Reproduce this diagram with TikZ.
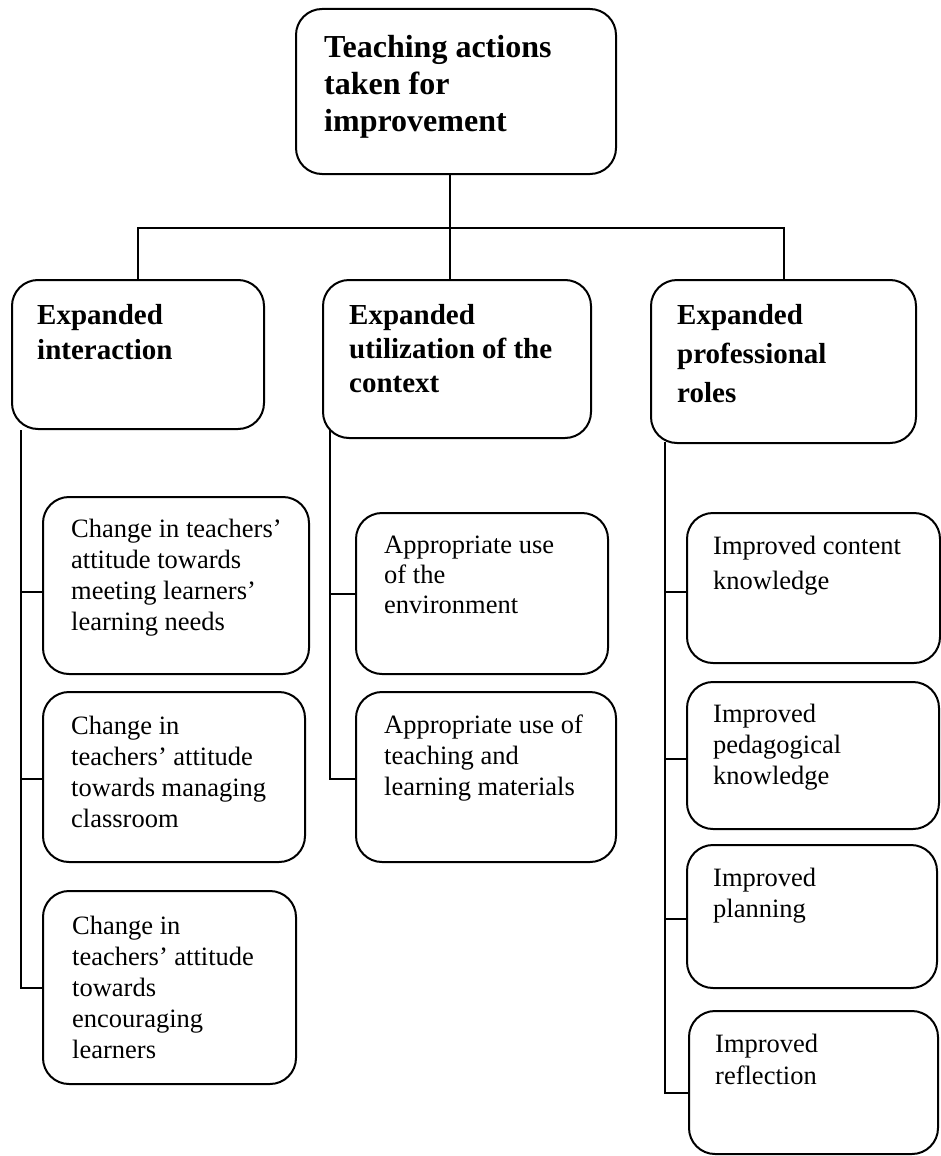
\documentclass[tikz,border=0pt]{standalone}
\usepackage{fontspec}
\setmainfont{Liberation Serif}
\begin{document}
\begin{tikzpicture}[x=1pt,y=-1pt,
  box/.style={draw, line width=2pt, rounded corners=26pt, anchor=north west, inner sep=0pt},
  link/.style={draw, line width=2pt},
  hd/.style={anchor=north west, inner sep=0pt, align=left, font=\fontsize{32}{37}\selectfont\bfseries},
  sub/.style={anchor=north west, inner sep=0pt, align=left, font=\fontsize{29}{35}\selectfont\bfseries},
  leaf/.style={anchor=north west, inner sep=0pt, align=left, font=\fontsize{26.5}{31}\selectfont}]
\fill[white] (0,0) rectangle (941,1156);
\useasboundingbox (0,0) rectangle (941,1156);

% root
\node[box, minimum width=320pt, minimum height=165pt] (top) at (295,8) {};
\node[hd] (topt) at (324,35) {Teaching actions\\taken for\\improvement};

% second level
\node[box, minimum width=252pt, minimum height=149pt] (ia) at (11,279) {};
\node[sub] (iat) at (37,304) {Expanded\\interaction};
\node[box, minimum width=268pt, minimum height=158pt] (uc) at (322,279) {};
\node[sub, font=\fontsize{29}{34}\selectfont\bfseries] (uct) at (349,304) {Expanded\\utilization of the\\context};
\node[box, minimum width=265pt, minimum height=163pt] (pr) at (650,279) {};
\node[sub, font=\fontsize{29}{39}\selectfont\bfseries] (prt) at (677,304) {Expanded\\professional\\roles};

% interaction branch
\node[box, minimum width=266pt, minimum height=177pt] (l1) at (42,496) {};
\node[leaf] (l1t) at (71,519) {Change in teachers’\\attitude towards\\meeting learners’\\learning needs};
\node[box, minimum width=262pt, minimum height=170pt] (l2) at (42,691) {};
\node[leaf] (l2t) at (71,716) {Change in\\teachers’ attitude\\towards managing\\classroom};
\node[box, minimum width=253pt, minimum height=193pt] (l3) at (42,890) {};
\node[leaf] (l3t) at (72,916) {Change in\\teachers’ attitude\\towards\\encouraging\\learners};

% context branch
\node[box, minimum width=252pt, minimum height=161pt] (m1) at (355,512) {};
\node[leaf, font=\fontsize{26.5}{30}\selectfont] (m1t) at (384,536) {Appropriate use\\of the\\environment};
\node[box, minimum width=260pt, minimum height=170pt] (m2) at (355,691) {};
\node[leaf] (m2t) at (384,715) {Appropriate use of\\teaching and\\learning materials};

% professional roles branch
\node[box, minimum width=253pt, minimum height=150pt] (r1) at (686,512) {};
\node[leaf, font=\fontsize{26.5}{35}\selectfont] (r1t) at (713,536) {Improved content\\knowledge};
\node[box, minimum width=252pt, minimum height=147pt] (r2) at (686,681) {};
\node[leaf] (r2t) at (713,704) {Improved\\pedagogical\\knowledge};
\node[box, minimum width=250pt, minimum height=143pt] (r3) at (686,844) {};
\node[leaf] (r3t) at (713,868) {Improved\\planning};
\node[box, minimum width=249pt, minimum height=143pt] (r4) at (688,1010) {};
\node[leaf, font=\fontsize{26.5}{32}\selectfont] (r4t) at (715,1034) {Improved\\reflection};

% root to second level
\coordinate (j) at (450,228);
\draw[link] (top.south -| j) -- (uc.north -| j);
\draw[link] (ia.north) |- (j) -| (pr.north);

% left spine
\coordinate (sl) at (21,430);
\coordinate (a1) at ([yshift=-6.5pt]l1.west);
\coordinate (a2) at ([yshift=-2pt]l2.west);
\coordinate (a3) at (l3.west);
\draw[link] (sl) |- (a3);
\draw[link] (sl |- a1) -- (a1);
\draw[link] (sl |- a2) -- (a2);

% middle spine
\coordinate (sm) at (330,430);
\coordinate (b1) at (m1.west);
\coordinate (b2) at ([yshift=-2pt]m2.west);
\draw[link] (sm) |- (b2);
\draw[link] (sm |- b1) -- (b1);

% right spine
\coordinate (sr) at (665,442);
\coordinate (c1) at ([yshift=-4pt]r1.west);
\coordinate (c2) at ([yshift=-3.5pt]r2.west);
\coordinate (c3) at ([yshift=-2.5pt]r3.west);
\coordinate (c4) at ([yshift=-10.5pt]r4.west);
\draw[link] (sr) |- (c4);
\draw[link] (sr |- c1) -- (c1);
\draw[link] (sr |- c2) -- (c2);
\draw[link] (sr |- c3) -- (c3);
\end{tikzpicture}
\end{document}
